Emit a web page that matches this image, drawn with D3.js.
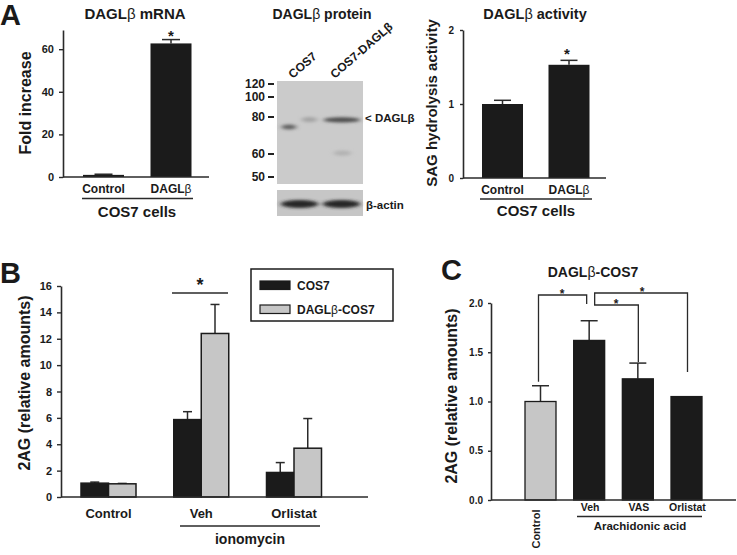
<!DOCTYPE html>
<html><head><meta charset="utf-8">
<script src="https://cdn.jsdelivr.net/npm/d3@7"></script>
<style>
body{margin:0;background:#fff}
svg{display:block}
text{font-family:"Liberation Sans",Arial,sans-serif;fill:#1a1a1a}
</style>
</head><body>
<svg id="chart" width="737" height="555"></svg>
<script>
// ---------- DATA ----------
const mrnaCategories = ["Control", "DAGLβ"];
const mrnaValues = [1.0, 62.7];
const mrnaErrors = [0.3, 1.8];
const mrnaTicks = [0, 20, 40, 60];

const activityCategories = ["Control", "DAGLβ"];
const activityValues = [1.0, 1.53];
const activityErrors = [0.05, 0.06];
const activityTicks = [0, 1, 2];

const blotLanes = ["COS7", "COS7-DAGLβ"];
const blotMarkers = [120, 100, 80, 60, 50];
// band descriptors: lane, molecular weight (kDa), intensity, sub-lane fraction
const blotBands = [
  {lane: "COS7", mw: 74.6, intensity: 0.62, from: 0.04, to: 0.42},
  {lane: "COS7", mw: 78.6, intensity: 0.22, from: 0.55, to: 0.95},
  {lane: "COS7-DAGLβ", mw: 78.4, intensity: 0.72, from: 0.05, to: 0.97},
  {lane: "COS7-DAGLβ", mw: 60.5, intensity: 0.14, from: 0.3, to: 0.75}
];
const actinIntensity = [0.95, 0.95];

const ionoGroups = ["Control", "Veh", "Orlistat"];
const cos7Values = [1.05, 5.87, 1.86];
const cos7Errors = [0.08, 0.6, 0.75];
const daglCos7Values = [1.0, 12.4, 3.7];
const daglCos7Errors = [0.03, 2.2, 2.25];
const ionoTicks = [0, 2, 4, 6, 8, 10, 12, 14, 16];
const seriesNames = ["COS7", "DAGLβ-COS7"];

const aaCategories = ["Control", "Veh", "VAS", "Orlistat"];
const aaValues = [1.0, 1.62, 1.23, 1.05];
const aaErrors = [0.16, 0.2, 0.16, 0];
const aaTicks = [0, 0.5, 1.0, 1.5, 2.0];

// ---------- HELPERS ----------
const svg = d3.select("#chart");
const BLACK = "#1b1b1b", GRAY = "#c6c6c6", AX = "#2a2a2a";

function styleAxis(g, size) {
  g.select(".domain").attr("stroke", AX).attr("stroke-width", 1.6);
  g.selectAll(".tick line").attr("stroke", AX).attr("stroke-width", 1.4);
  g.selectAll(".tick text").attr("font-size", size).attr("font-weight", "bold")
    .attr("fill", "#222").attr("font-family", "Liberation Sans, Arial, sans-serif");
}
function title(x, y, main, rest, size) {
  const t = svg.append("text").attr("x", x).attr("y", y).attr("text-anchor", "middle")
    .attr("font-size", size).attr("font-weight", "bold");
  t.append("tspan").text(main);
  t.append("tspan").attr("font-weight", "normal").text("β");
  if (rest) t.append("tspan").text(rest);
  return t;
}
function ylabel(x, y, txt, size) {
  svg.append("text").attr("transform", `translate(${x},${y}) rotate(-90)`)
    .attr("text-anchor", "middle").attr("font-size", size).attr("font-weight", "bold").text(txt);
}
function errBar(g, cx, yTop, yErr, cap) {
  g.append("line").attr("x1", cx).attr("x2", cx).attr("y1", yTop).attr("y2", yErr)
    .attr("stroke", AX).attr("stroke-width", 1.5);
  g.append("line").attr("x1", cx - cap / 2).attr("x2", cx + cap / 2).attr("y1", yErr).attr("y2", yErr)
    .attr("stroke", AX).attr("stroke-width", 1.5);
}
function letter(x, y, s) {
  svg.append("text").attr("x", x).attr("y", y).attr("font-size", 29).attr("font-weight", "bold").text(s);
}
function betaText(t, nm) {
  if (nm.includes("β")) {
    const k = nm.indexOf("β");
    t.append("tspan").text(nm.slice(0, k));
    t.append("tspan").attr("font-weight", "normal").text("β");
    if (k + 1 < nm.length) t.append("tspan").text(nm.slice(k + 1));
  } else t.text(nm);
}

// ---------- PANEL A1: mRNA ----------
letter(0, 25, "A");
title(135, 19, "DAGL", " mRNA", 15);
{
  const y = d3.scaleLinear().domain([0, 69]).range([177, 30]);
  const x = d3.scalePoint().domain(mrnaCategories).range([103.5, 171]);
  const bw = 41;
  const g = svg.append("g");
  mrnaCategories.forEach((c, i) => {
    g.append("rect").attr("x", x(c) - bw / 2).attr("y", y(mrnaValues[i])).attr("width", bw)
      .attr("height", y(0) - y(mrnaValues[i])).attr("fill", BLACK);
    errBar(g, x(c), y(mrnaValues[i]), y(mrnaValues[i] + mrnaErrors[i]), 18);
  });
  const ax = svg.append("g").attr("transform", "translate(63,0)")
    .call(d3.axisLeft(y).tickValues(mrnaTicks).tickFormat(d3.format("d")).tickSize(4).tickSizeOuter(0).tickPadding(5));
  styleAxis(ax, 11);
  svg.append("line").attr("x1", 63).attr("x2", 209).attr("y1", y(0)).attr("y2", y(0)).attr("stroke", AX).attr("stroke-width", 1.6);
  svg.append("text").attr("x", 171).attr("y", 41).attr("text-anchor", "middle").attr("font-size", 15).attr("font-weight", "bold").text("*");
  mrnaCategories.forEach(c => {
    const t = svg.append("text").attr("x", x(c)).attr("y", 193).attr("text-anchor", "middle")
      .attr("font-size", 12).attr("font-weight", "bold");
    betaText(t, c);
  });
  svg.append("line").attr("x1", 82).attr("x2", 193).attr("y1", 198.5).attr("y2", 198.5).attr("stroke", AX).attr("stroke-width", 1.5);
  svg.append("text").attr("x", 137).attr("y", 217).attr("text-anchor", "middle").attr("font-size", 15).attr("font-weight", "bold").text("COS7 cells");
  ylabel(31, 103, "Fold increase", 16);
}

// ---------- PANEL A2: western blot ----------
title(322, 19, "DAGL", " protein", 14);
{
  const defs = svg.append("defs");
  defs.append("filter").attr("id", "blur").attr("x", "-30%").attr("y", "-150%").attr("width", "160%").attr("height", "400%")
    .append("feGaussianBlur").attr("stdDeviation", "2.6 1.8");
  const mwY = d3.scaleLinear().domain(blotMarkers).range([84, 97, 117, 154, 177]);
  const lane = d3.scaleBand().domain(blotLanes).range([279, 362]).paddingInner(0.06).paddingOuter(0.02);
  const shade = d3.scaleLinear().domain([0, 1]).range(["#cacaca", "#1e1e1e"]);
  svg.append("rect").attr("x", 277).attr("y", 81).attr("width", 86).attr("height", 103).attr("fill", "#cbcbcb");
  svg.append("rect").attr("x", 277).attr("y", 190).attr("width", 86).attr("height", 26).attr("fill", "#c6c6c6");
  const bg = svg.append("g").attr("filter", "url(#blur)");
  blotBands.forEach(b => {
    const x0 = lane(b.lane) + lane.bandwidth() * b.from, x1 = lane(b.lane) + lane.bandwidth() * b.to;
    bg.append("ellipse").attr("cx", (x0 + x1) / 2).attr("cy", mwY(b.mw)).attr("rx", (x1 - x0) / 2).attr("ry", 2.6)
      .attr("fill", shade(b.intensity));
  });
  blotLanes.forEach((l, i) => {
    bg.append("ellipse").attr("cx", lane(l) + lane.bandwidth() / 2).attr("cy", 204).attr("rx", lane.bandwidth() / 2 - 1)
      .attr("ry", 4).attr("fill", shade(actinIntensity[i]));
  });
  blotMarkers.forEach(m => {
    svg.append("text").attr("x", 265).attr("y", mwY(m) + 4.3).attr("text-anchor", "end")
      .attr("font-size", 12).attr("font-weight", "600").attr("font-family", "Open Sans, sans-serif").text(m);
    svg.append("line").attr("x1", 268).attr("x2", 274).attr("y1", mwY(m)).attr("y2", mwY(m)).attr("stroke", "#222").attr("stroke-width", 2);
  });
  blotLanes.forEach((l, i) => {
    svg.append("text").attr("transform", `translate(${lane(l) + (i ? 13 : 13)},79) rotate(-41)`)
      .attr("font-size", 12).attr("font-weight", "600").attr("font-family", "Open Sans, sans-serif").text(l);
  });
  svg.append("text").attr("x", 365).attr("y", 122).attr("font-size", 11.5).attr("font-weight", "600")
    .attr("font-family", "Open Sans, sans-serif").text("< DAGLβ");
  svg.append("text").attr("x", 366).attr("y", 209).attr("font-size", 11.5).attr("font-weight", "600")
    .attr("font-family", "Open Sans, sans-serif").text("β-actin");
}

// ---------- PANEL A3: activity ----------
title(535, 19, "DAGL", " activity", 14.5);
{
  const y = d3.scaleLinear().domain([0, 2]).range([178, 30]);
  const x = d3.scalePoint().domain(activityCategories).range([502.5, 569]);
  const bw = 41;
  const g = svg.append("g");
  activityCategories.forEach((c, i) => {
    g.append("rect").attr("x", x(c) - bw / 2).attr("y", y(activityValues[i])).attr("width", bw)
      .attr("height", y(0) - y(activityValues[i])).attr("fill", BLACK);
    errBar(g, x(c), y(activityValues[i]), y(activityValues[i] + activityErrors[i]), 17);
  });
  const ax = svg.append("g").attr("transform", "translate(463,0)")
    .call(d3.axisLeft(y).tickValues(activityTicks).tickFormat(d3.format("d")).tickSize(3).tickSizeOuter(0).tickPadding(6));
  styleAxis(ax, 10);
  svg.append("line").attr("x1", 463).attr("x2", 606).attr("y1", y(0)).attr("y2", y(0)).attr("stroke", AX).attr("stroke-width", 1.6);
  svg.append("text").attr("x", 567).attr("y", 59).attr("text-anchor", "middle").attr("font-size", 15).attr("font-weight", "bold").text("*");
  activityCategories.forEach(c => {
    const t = svg.append("text").attr("x", x(c)).attr("y", 194).attr("text-anchor", "middle")
      .attr("font-size", 12).attr("font-weight", "bold");
    betaText(t, c);
  });
  svg.append("line").attr("x1", 480).attr("x2", 592).attr("y1", 199).attr("y2", 199).attr("stroke", AX).attr("stroke-width", 1.5);
  svg.append("text").attr("x", 536).attr("y", 216).attr("text-anchor", "middle").attr("font-size", 15).attr("font-weight", "bold").text("COS7 cells");
  ylabel(437, 103, "SAG hydrolysis activity", 15);
}

// ---------- PANEL B ----------
letter(0, 283, "B");
{
  const y = d3.scaleLinear().domain([0, 16]).range([497, 286]);
  const x = d3.scalePoint().domain(ionoGroups).range([108.5, 294]);
  const bw = 27.5;
  const g = svg.append("g");
  const series = [
    {vals: cos7Values, errs: cos7Errors, fill: BLACK, off: -bw / 2},
    {vals: daglCos7Values, errs: daglCos7Errors, fill: GRAY, off: bw / 2}
  ];
  series.forEach(s => {
    ionoGroups.forEach((c, i) => {
      const cx = x(c) + s.off;
      errBar(g, cx, y(s.vals[i]), y(s.vals[i] + s.errs[i]), 9);
      g.append("rect").attr("x", cx - bw / 2).attr("y", y(s.vals[i])).attr("width", bw)
        .attr("height", y(0) - y(s.vals[i])).attr("fill", s.fill).attr("stroke", BLACK).attr("stroke-width", 1.5);
    });
  });
  const ax = svg.append("g").attr("transform", "translate(61,0)")
    .call(d3.axisLeft(y).tickValues(ionoTicks).tickFormat(d3.format("d")).tickSize(4).tickSizeOuter(0).tickPadding(5));
  styleAxis(ax, 11);
  svg.append("line").attr("x1", 61).attr("x2", 368).attr("y1", y(0)).attr("y2", y(0)).attr("stroke", AX).attr("stroke-width", 1.6);
  svg.append("line").attr("x1", 172).attr("x2", 228).attr("y1", 293).attr("y2", 293).attr("stroke", AX).attr("stroke-width", 1.5);
  svg.append("text").attr("x", 200).attr("y", 291).attr("text-anchor", "middle").attr("font-size", 18).attr("font-weight", "bold").text("*");
  ionoGroups.forEach(c => {
    svg.append("text").attr("x", x(c)).attr("y", 518).attr("text-anchor", "middle")
      .attr("font-size", 13).attr("font-weight", "600").attr("font-family", "Open Sans, sans-serif").text(c);
  });
  svg.append("line").attr("x1", 180).attr("x2", 320).attr("y1", 526).attr("y2", 526).attr("stroke", AX).attr("stroke-width", 1.5);
  svg.append("text").attr("x", 250).attr("y", 544).attr("text-anchor", "middle")
    .attr("font-size", 14).attr("font-weight", "600").attr("font-family", "Open Sans, sans-serif").text("ionomycin");
  ylabel(30, 383, "2AG (relative amounts)", 16);
  const lg = svg.append("g");
  lg.append("rect").attr("x", 251).attr("y", 269).attr("width", 142).attr("height", 52)
    .attr("fill", "#fff").attr("stroke", BLACK).attr("stroke-width", 1.5);
  [BLACK, GRAY].forEach((f, i) => {
    lg.append("rect").attr("x", 260).attr("y", 281 + i * 24).attr("width", 30).attr("height", 8.5)
      .attr("fill", f).attr("stroke", BLACK).attr("stroke-width", 1.2);
    const t = lg.append("text").attr("x", 297).attr("y", 289.5 + i * 24).attr("font-size", 12).attr("font-weight", "bold");
    betaText(t, seriesNames[i]);
  });
}

// ---------- PANEL C ----------
letter(441, 280, "C");
title(593, 277, "DAGL", "-COS7", 14);
{
  const y = d3.scaleLinear().domain([0, 2]).range([500, 303]);
  const x = d3.scalePoint().domain(aaCategories).range([540.5, 686.5]);
  const bw = 31;
  const g = svg.append("g");
  aaCategories.forEach((c, i) => {
    if (aaErrors[i] > 0) errBar(g, x(c), y(aaValues[i]), y(aaValues[i] + aaErrors[i]), 17);
    g.append("rect").attr("x", x(c) - bw / 2).attr("y", y(aaValues[i])).attr("width", bw)
      .attr("height", y(0) - y(aaValues[i])).attr("fill", i === 0 ? GRAY : BLACK)
      .attr("stroke", BLACK).attr("stroke-width", 1.3);
  });
  const ax = svg.append("g").attr("transform", "translate(491,0)")
    .call(d3.axisLeft(y).tickValues(aaTicks).tickFormat(d3.format(".1f")).tickSize(3).tickSizeOuter(0).tickPadding(5));
  styleAxis(ax, 10);
  svg.append("line").attr("x1", 491).attr("x2", 736).attr("y1", y(0)).attr("y2", y(0)).attr("stroke", AX).attr("stroke-width", 1.6);
  const br = (xa, ya, xb, yb, top, sx) => {
    svg.append("path").attr("d", `M${xa},${ya}V${top}H${xb}V${yb}`).attr("fill", "none").attr("stroke", AX).attr("stroke-width", 1.3);
    svg.append("text").attr("x", sx).attr("y", top + 3).attr("text-anchor", "middle").attr("font-size", 12).attr("font-weight", "bold").text("*");
  };
  br(x("Control") - 2, y(1.2), x("Veh") - 2.5, 304, 295, 562);
  br(x("Veh") + 5.5, 304, x("VAS") + 0.5, y(1.4), 305, 616);
  br(x("Veh") + 5.5, 304, x("Orlistat") + 1, y(1.3), 293, 642);
  aaCategories.slice(1).forEach(c => {
    svg.append("text").attr("x", x(c) + 1).attr("y", 511).attr("text-anchor", "middle")
      .attr("font-size", 10.5).attr("font-weight", "bold").text(c);
  });
  svg.append("text").attr("transform", `translate(${x("Control") - 4},529) rotate(-90)`).attr("text-anchor", "middle")
    .attr("dy", "0.35em").attr("font-size", 11).attr("font-weight", "bold").text("Control");
  svg.append("line").attr("x1", 577).attr("x2", 702).attr("y1", 516.5).attr("y2", 516.5).attr("stroke", AX).attr("stroke-width", 1.5);
  svg.append("text").attr("x", 640).attr("y", 530).attr("text-anchor", "middle").attr("font-size", 11.5).attr("font-weight", "bold").text("Arachidonic acid");
  ylabel(457, 396, "2AG (relative amounts)", 16);
}
</script>
</body></html>
